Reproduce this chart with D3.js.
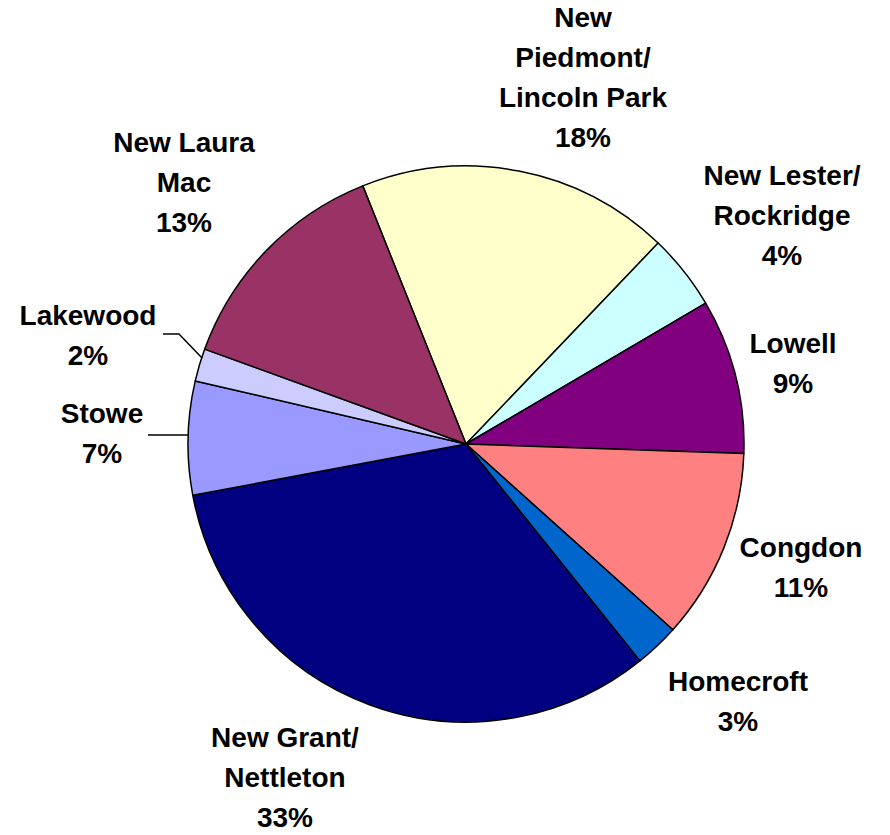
<!DOCTYPE html>
<html><head><meta charset="utf-8">
<script src="https://cdn.jsdelivr.net/npm/d3@7"></script>
<style>body{margin:0;background:#fff}svg{display:block}</style>
</head><body>
<svg id="chart" width="890" height="835"></svg>
<script>
const categories = ["New Piedmont/ Lincoln Park","New Lester/ Rockridge","Lowell","Congdon","Homecroft","New Grant/ Nettleton","Stowe","Lakewood","New Laura Mac"];
const labelLines = [["New","Piedmont/","Lincoln Park"],["New Lester/","Rockridge"],["Lowell"],["Congdon"],["Homecroft"],["New Grant/","Nettleton"],["Stowe"],["Lakewood"],["New Laura","Mac"]];
const values = [18.2,4.4,9.0,11.1,2.6,32.8,6.6,1.9,13.4];
const colors = ["#FFFFCC","#CCFFFF","#800080","#FF8080","#0066CC","#000080","#9999FF","#CCCCFF","#993366"];
// label anchor (center x, first baseline y)
const labelPos = [[583,27],[782,185],[793,353],[801,557],[738,691],[285,747],[102,423],[88,325],[184,152]];

const svg = d3.select("#chart");
const cx = 466, cy = 444, r = 278;
const start = -21.8 * Math.PI / 180;
const pie = d3.pie().sort(null).value(d => d).startAngle(start).endAngle(start + 2 * Math.PI);
const arc = d3.arc().innerRadius(0).outerRadius(r);
const g = svg.append("g").attr("transform", `translate(${cx},${cy})`);
g.selectAll("path").data(pie(values)).join("path")
  .attr("d", arc)
  .attr("fill", (d, i) => colors[i])
  .attr("stroke", "#000").attr("stroke-width", 1.5).attr("stroke-linejoin", "round");

// leader lines
const leaders = [
  [[163,334],[179,334],[202,358]],
  [[148,435],[188,435]]
];
svg.selectAll("path.leader").data(leaders).join("path")
  .attr("class", "leader")
  .attr("d", d => d3.line()(d))
  .attr("fill", "none").attr("stroke", "#000").attr("stroke-width", 1.5);

const lh = 40;
const tg = svg.append("g").attr("font-family", "Arial, 'Liberation Sans', sans-serif")
  .attr("font-weight", "bold").attr("font-size", 28).attr("text-anchor", "middle").attr("fill", "#000");
values.forEach((v, i) => {
  const t = tg.append("text");
  const lines = labelLines[i].concat([Math.round(v) + "%"]);
  lines.forEach((ln, j) => {
    t.append("tspan").attr("x", labelPos[i][0]).attr("y", labelPos[i][1] + j * lh).text(ln);
  });
});
</script>
</body></html>
